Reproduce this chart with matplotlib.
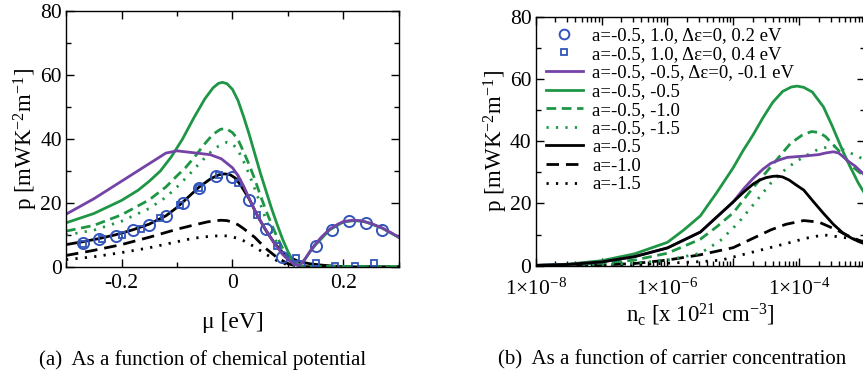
import matplotlib
matplotlib.use("Agg")
import matplotlib.pyplot as plt
from matplotlib.lines import Line2D
from matplotlib.ticker import MultipleLocator, LogLocator, FuncFormatter, NullFormatter
import numpy as np

plt.rcParams['font.family'] = ['Liberation Serif', 'DejaVu Serif']
plt.rcParams['mathtext.fontset'] = 'custom'
plt.rcParams['mathtext.rm'] = 'Liberation Serif'
plt.rcParams['mathtext.it'] = 'Liberation Serif:italic'
plt.rcParams['axes.linewidth'] = 1.0
plt.rcParams['axes.unicode_minus'] = False

GREEN = '#1e9645'
PURPLE = '#7443a6'
BLUE = '#3355bb'

# ---- (a) p vs chemical potential ----
purple_mu = [-0.3, -0.25, -0.2, -0.15, -0.12, -0.10, -0.07, -0.04, -0.02, 0.0, 0.01, 0.02, 0.03,
             0.04, 0.05, 0.06, 0.07, 0.08, 0.09, 0.10, 0.11, 0.12, 0.13, 0.14, 0.15, 0.16,
             0.175, 0.19, 0.2, 0.215, 0.23, 0.25, 0.27, 0.285, 0.3]
purple_p = [16.5, 21.3, 26.8, 32.3, 35.6, 36.3, 35.7, 35.1, 33.8, 31.0, 28.6, 25.3, 21.5,
            17.8, 14.5, 11.6, 8.8, 6.3, 4.0, 2.3, 1.0, 0.4, 2.3, 5.0, 7.3, 9.3,
            11.8, 13.4, 14.2, 14.6, 14.5, 13.6, 12.2, 10.8, 9.3]

green_mu = [-0.3, -0.25, -0.2, -0.17, -0.15, -0.13, -0.11, -0.09, -0.07, -0.05, -0.035, -0.025,
            -0.018, -0.01, 0.0, 0.01, 0.02, 0.03, 0.04, 0.05, 0.06, 0.07, 0.08, 0.09, 0.10,
            0.108, 0.115, 0.122, 0.13, 0.14, 0.15, 0.175, 0.2, 0.22, 0.24, 0.27, 0.3]
green_p = [13.8, 16.7, 20.8, 24.0, 26.8, 30.0, 34.5, 40.0, 46.5, 52.5, 56.0, 57.4,
           57.7, 57.3, 55.5, 52.0, 47.0, 41.5, 35.5, 29.5, 24.0, 18.5, 13.5, 8.8, 4.8,
           2.2, 0.8, 0.8, 2.3, 4.8, 7.0, 11.6, 14.1, 14.5, 14.1, 12.1, 9.2]

gdash_mu = [-0.3, -0.25, -0.2, -0.15, -0.12, -0.10, -0.085, -0.07, -0.05, -0.035, -0.022, -0.012,
            0.0, 0.01, 0.02, 0.03, 0.04, 0.05, 0.06, 0.07, 0.08, 0.09, 0.10, 0.11, 0.12,
            0.15, 0.3]
gdash_p = [11.2, 13.0, 16.3, 21.0, 25.0, 28.5, 31.0, 34.0, 38.5, 41.5, 43.0, 43.3,
           42.0, 39.8, 36.0, 32.0, 27.5, 22.5, 17.8, 13.5, 9.5, 6.0, 3.2, 1.2, 0.3,
           0.2, 0.1]

gdot_mu = [-0.3, -0.25, -0.2, -0.15, -0.12, -0.10, -0.08, -0.06, -0.04, -0.025, -0.01, 0.0,
           0.01, 0.02, 0.03, 0.04, 0.05, 0.06, 0.07, 0.08, 0.09, 0.10, 0.11, 0.12, 0.15, 0.3]
gdot_p = [10.0, 11.5, 14.3, 18.3, 21.8, 25.0, 28.5, 32.3, 35.8, 37.8, 39.0, 38.5,
          36.5, 33.0, 29.0, 24.5, 19.8, 15.0, 11.0, 7.5, 4.5, 2.5, 1.0, 0.3, 0.1, 0.05]

black_mu = [-0.3, -0.27, -0.24, -0.21, -0.18, -0.15, -0.12, -0.10, -0.08, -0.06, -0.04, -0.025,
            -0.015, -0.005, 0.005, 0.015, 0.03, 0.045, 0.06, 0.075, 0.09, 0.105, 0.12, 0.14,
            0.16, 0.18, 0.2, 0.22, 0.3]
black_p = [7.0, 7.9, 8.9, 10.1, 11.6, 13.4, 16.0, 18.6, 21.8, 25.0, 27.5, 28.8,
           29.1, 28.9, 27.8, 25.5, 21.3, 16.0, 11.5, 7.6, 4.6, 2.8, 1.7, 1.0,
           0.6, 0.3, 0.15, 0.05, 0.0]

bdash_mu = [-0.3, -0.25, -0.2, -0.15, -0.10, -0.07, -0.045, -0.03, -0.02, -0.01, 0.0, 0.01,
            0.02, 0.04, 0.06, 0.08, 0.10, 0.12, 0.15, 0.3]
bdash_p = [3.6, 5.2, 7.0, 9.3, 11.8, 13.1, 14.1, 14.5, 14.6, 14.5, 14.0, 13.2,
           12.0, 9.3, 5.8, 3.0, 1.0, 0.2, 0.0, 0.0]

bdot_mu = [-0.3, -0.25, -0.2, -0.15, -0.10, -0.07, -0.045, -0.03, -0.02, -0.01, 0.0, 0.01,
           0.02, 0.04, 0.06, 0.08, 0.10, 0.12, 0.15, 0.3]
bdot_p = [2.3, 3.2, 4.5, 6.0, 7.9, 9.0, 9.5, 9.7, 9.8, 9.7, 9.4, 8.9,
          8.2, 6.3, 4.0, 2.0, 0.6, 0.1, 0.0, 0.0]

circ_mu = [-0.27, -0.24, -0.21, -0.18, -0.15, -0.12, -0.09, -0.06, -0.03, 0.0,
           0.03, 0.06, 0.09, 0.12, 0.15, 0.18, 0.21, 0.24, 0.27]
circ_p = [7.5, 8.6, 9.7, 11.5, 13.2, 15.8, 20.0, 24.7, 28.4, 28.0,
          21.0, 11.8, 3.2, 0.3, 6.5, 11.7, 14.4, 13.8, 11.7]

sq_mu = [-0.27, -0.235, -0.2, -0.165, -0.13, -0.095, -0.06, -0.025, 0.01, 0.045,
         0.08, 0.115, 0.15, 0.185, 0.22, 0.255]
sq_p = [7.3, 8.6, 10.0, 11.9, 15.2, 19.5, 24.8, 28.7, 26.2, 16.3,
        6.5, 2.8, 1.2, 0.4, 0.4, 1.1]

# ---- (b) p vs carrier concentration (log10 of n_c) ----
green_ln = [-8, -7.5, -7, -6.5, -6, -5.75, -5.5, -5.25, -5, -4.85, -4.7, -4.55, -4.4, -4.25,
            -4.12, -4.03, -3.93, -3.8, -3.63, -3.5, -3.43, -3.33, -3.23, -3.1, -3.0]
green_pn = [0.1, 0.5, 1.6, 3.8, 7.5, 11.5, 16.0, 23.5, 31.5, 37.0, 42.0, 47.5, 52.5, 56.0,
            57.4, 57.7, 57.3, 55.8, 51.0, 45.0, 41.5, 36.5, 32.0, 26.5, 23.0]

gdash_ln = [-8, -7, -6.5, -6, -5.5, -5.25, -5, -4.7, -4.43, -4.13, -3.95, -3.81, -3.7, -3.6,
            -3.4, -3.2, -3.0]
gdash_pn = [0.05, 0.8, 1.8, 4.0, 8.5, 12.5, 17.0, 25.0, 31.8, 39.3, 42.0, 43.1, 42.8, 41.5,
            37.0, 32.0, 28.5]

gdot_ln = [-8, -7, -6.5, -6, -5.5, -5.2, -4.93, -4.68, -4.43, -4.18, -3.93, -3.7, -3.48,
           -3.3, -3.0]
gdot_pn = [0.02, 0.3, 0.8, 1.8, 4.0, 8.0, 13.6, 20.0, 26.5, 31.5, 35.0, 37.5, 38.5,
           37.0, 34.0]

purple_ln = [-8, -7.5, -7, -6.5, -6, -5.5, -5, -4.85, -4.7, -4.55, -4.43, -4.3, -4.18, -3.93,
             -3.7, -3.6, -3.48, -3.4, -3.33, -3.25, -3.15, -3.0]
purple_pn = [0.1, 0.4, 1.2, 2.9, 5.7, 10.8, 20.5, 24.5, 28.0, 31.0, 32.9, 34.0, 34.8, 35.2,
             35.7, 36.2, 36.6, 36.2, 35.0, 33.5, 32.0, 29.0]

black_ln = [-8, -7.5, -7, -6.5, -6, -5.5, -5, -4.85, -4.7, -4.6, -4.5, -4.4, -4.33, -4.25,
            -4.15, -4.05, -3.93, -3.78, -3.63, -3.48, -3.33, -3.2, -3.09, -3.0]
black_pn = [0.1, 0.4, 1.2, 2.9, 5.7, 10.8, 20.5, 23.5, 26.2, 27.5, 28.3, 28.7, 28.8, 28.5,
            27.5, 26.0, 24.3, 20.5, 16.8, 13.3, 10.4, 8.8, 7.7, 7.0]

bdash_ln = [-8, -7, -6.5, -6, -5.5, -5, -4.7, -4.43, -4.2, -3.93, -3.7, -3.43, -3.2, -3.0]
bdash_pn = [0.0, 0.2, 0.7, 1.8, 3.5, 5.8, 8.8, 11.5, 13.3, 14.5, 14.0, 11.5, 9.0, 7.5]

bdot_ln = [-8, -7, -6.5, -6, -5.5, -5.18, -4.68, -4.18, -3.9, -3.63, -3.23, -3.0]
bdot_pn = [0.0, 0.1, 0.3, 0.8, 1.3, 1.8, 4.5, 7.2, 8.8, 9.9, 8.8, 8.0]

legend_labels = ['a=-0.5, 1.0, Δε=0, 0.2 eV', 'a=-0.5, 1.0, Δε=0, 0.4 eV',
                 'a=-0.5, -0.5, Δε=0, -0.1 eV', 'a=-0.5, -0.5', 'a=-0.5, -1.0',
                 'a=-0.5, -1.5', 'a=-0.5', 'a=-1.0', 'a=-1.5']

LW = 2.0
GDASH = (3.5, 2.0)
GDOT = (0.8, 2.6)
BDASH = (4.5, 2.5)
BDOT = (0.8, 2.6)

fig = plt.figure(figsize=(8.63, 3.75), dpi=100)
ax1 = fig.add_axes([0.0765, 0.288, 0.3858, 0.6827])
ax2 = fig.add_axes([0.6207, 0.2915, 0.3816, 0.664])


def style_axis(ax, xpad):
    ax.tick_params(which='both', direction='in', top=True, right=True, labelsize=15.5,
                   width=1.0)
    ax.tick_params(which='major', length=6)
    ax.tick_params(which='minor', length=3.5)
    ax.tick_params(axis='y', pad=3)
    ax.tick_params(axis='x', pad=xpad)
    ax.set_ylim(0, 80)
    ax.yaxis.set_major_locator(MultipleLocator(20))
    ax.yaxis.set_minor_locator(MultipleLocator(10))
    ax.set_ylabel('p [mWK$^{-2}$m$^{-1}$]', fontsize=16.5, labelpad=0)


# panel (a)
ax1.plot(black_mu, black_p, color='black', lw=LW)
ax1.plot(bdash_mu, bdash_p, color='black', lw=LW, dashes=BDASH)
ax1.plot(bdot_mu, bdot_p, color='black', lw=LW, dashes=BDOT)
ax1.plot(gdot_mu, gdot_p, color=GREEN, lw=LW, dashes=GDOT)
ax1.plot(gdash_mu, gdash_p, color=GREEN, lw=LW, dashes=GDASH)
ax1.plot(green_mu, green_p, color=GREEN, lw=LW)
ax1.plot(sq_mu, sq_p, ls='none', marker='s', ms=4.5, mfc='none', mec=BLUE, mew=1.3)
ax1.plot(circ_mu, circ_p, ls='none', marker='o', ms=8, mfc='none', mec=BLUE, mew=1.4)
ax1.plot(purple_mu, purple_p, color=PURPLE, lw=LW)
ax1.set_xlim(-0.3, 0.3)
ax1.xaxis.set_major_locator(MultipleLocator(0.2))
ax1.xaxis.set_minor_locator(MultipleLocator(0.1))
ax1.xaxis.set_major_formatter(FuncFormatter(lambda v, p: '0' if abs(v) < 1e-9 else '%g' % v))
style_axis(ax1, 5)
ax1.set_xlabel('μ [eV]', fontsize=17, labelpad=14)

# panel (b)
ax2.plot(10.0 ** np.array(bdot_ln), bdot_pn, color='black', lw=LW, dashes=BDOT)
ax2.plot(10.0 ** np.array(bdash_ln), bdash_pn, color='black', lw=LW, dashes=BDASH)
ax2.plot(10.0 ** np.array(gdot_ln), gdot_pn, color=GREEN, lw=LW, dashes=GDOT)
ax2.plot(10.0 ** np.array(gdash_ln), gdash_pn, color=GREEN, lw=LW, dashes=GDASH)
ax2.plot(10.0 ** np.array(green_ln), green_pn, color=GREEN, lw=LW)
ax2.plot(10.0 ** np.array(purple_ln), purple_pn, color=PURPLE, lw=LW)
ax2.plot(10.0 ** np.array(black_ln), black_pn, color='black', lw=LW)
ax2.set_xscale('log')
ax2.set_xlim(1e-8, 1e-3)
ax2.xaxis.set_major_locator(LogLocator(base=10, numticks=10))
ax2.xaxis.set_minor_locator(LogLocator(base=10, subs=np.arange(2, 10), numticks=20))
ax2.xaxis.set_minor_formatter(NullFormatter())


def sci_fmt(v, pos):
    e = int(round(np.log10(v)))
    if e % 2:
        return ''
    return '1×10$^{%d}$' % e


ax2.xaxis.set_major_formatter(FuncFormatter(sci_fmt))
style_axis(ax2, 9)
ax2.set_xlabel('n$_\\mathrm{c}$ [x 10$^{21}$ cm$^{-3}$]', fontsize=16.5, labelpad=2)

handles = [
    Line2D([], [], ls='none', marker='o', ms=7, mfc='none', mec=BLUE, mew=1.4),
    Line2D([], [], ls='none', marker='s', ms=4.5, mfc='none', mec=BLUE, mew=1.3),
    Line2D([], [], color=PURPLE, lw=LW),
    Line2D([], [], color=GREEN, lw=LW),
    Line2D([], [], color=GREEN, lw=LW, dashes=GDASH),
    Line2D([], [], color=GREEN, lw=LW, dashes=GDOT),
    Line2D([], [], color='black', lw=LW),
    Line2D([], [], color='black', lw=LW, dashes=BDASH),
    Line2D([], [], color='black', lw=LW, dashes=BDOT),
]
ax2.legend(handles, legend_labels, loc='upper left', frameon=False, fontsize=13.5,
           handlelength=2.0, handletextpad=0.5, labelspacing=0.08, numpoints=1,
           borderaxespad=0.0, borderpad=0.0, bbox_to_anchor=(0.03, 0.958))

fig.text(0.235, 0.04, '(a)  As a function of chemical potential', ha='center',
         va='center', fontsize=15)
fig.text(0.779, 0.04, '(b)  As a function of carrier concentration', ha='center',
         va='center', fontsize=15)

fig.savefig('out.png', dpi=100)
